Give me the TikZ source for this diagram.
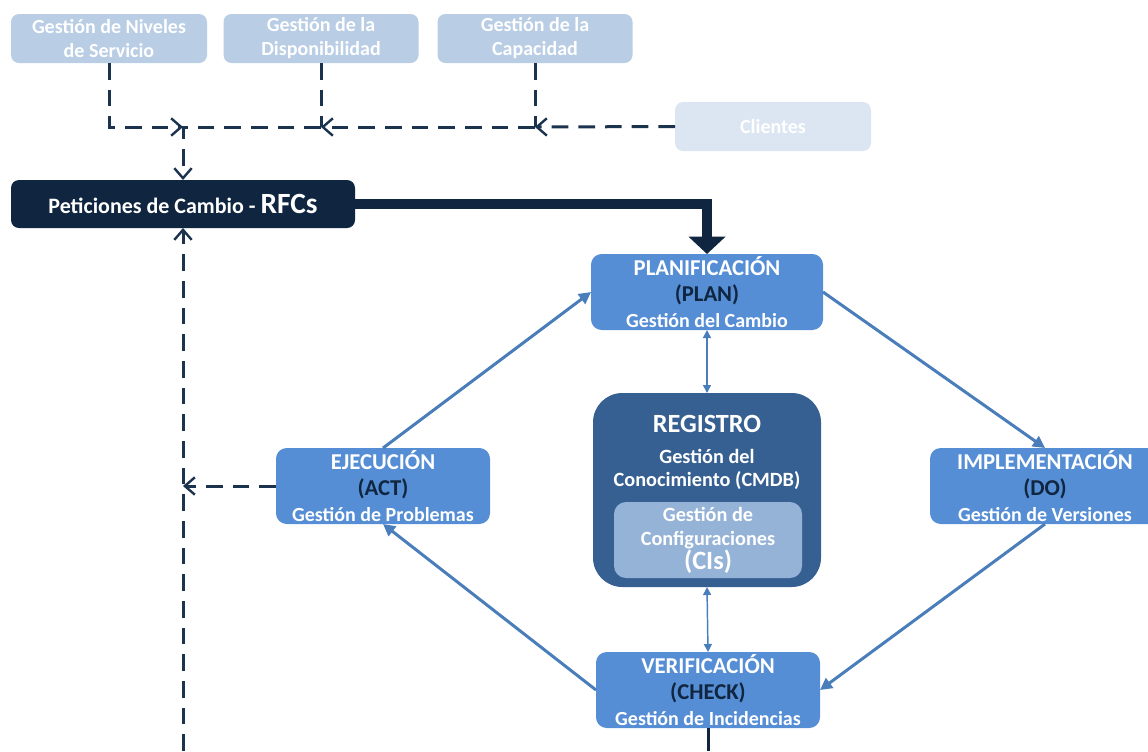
\documentclass[tikz,border=0pt]{standalone}
\usepackage{fontspec}
\setmainfont{Carlito}
\usetikzlibrary{arrows.meta}
\definecolor{lightbox}{HTML}{B9CDE5}
\definecolor{palebox}{HTML}{DCE6F2}
\definecolor{navy}{HTML}{10253F}
\definecolor{midblue}{HTML}{558ED5}
\definecolor{regblue}{HTML}{376092}
\definecolor{ciblue}{HTML}{95B3D7}
\definecolor{arrowblue}{HTML}{4A7EBB}
\definecolor{dashnavy}{HTML}{1C3350}
\newcommand{\ttl}[1]{{\fontsize{17}{19.5}\selectfont #1}}
\begin{document}
\begin{tikzpicture}[x=0.75pt,y=-0.75pt,
  boxsize/.style 2 args={minimum width=#1*0.75pt, minimum height=#2*0.75pt, inner sep=0pt, outer sep=0pt},
  topbox/.style={fill=lightbox, rounded corners=6pt, text=white, align=center, font=\bfseries\fontsize{15}{18}\selectfont},
  phase/.style={fill=midblue, rounded corners=8pt, text=white, align=center, font=\bfseries\fontsize{15}{19.5}\selectfont},
  dsh/.style={draw=dashnavy, line width=2.25pt, dash pattern=on 12.5pt off 7.5pt},
  dtip/.style={-{Straight Barb[length=7.5pt,width=13pt,line width=1.8pt]}},
  cyc/.style={draw=arrowblue, line width=2.25pt, -{Triangle[length=9pt,width=9pt]}},
  link/.style={draw=arrowblue, line width=1.1pt, {Triangle[length=6pt,width=6pt]}-{Triangle[length=6pt,width=6pt]}}
]
\useasboundingbox (0,0) rectangle (1148,751);

% top boxes
\node[topbox, boxsize={196}{49}] (n1) at (109,38.5) {Gestión de Niveles\\de Servicio};
\node[topbox, boxsize={195}{49}] (n2) at (321,38.5) {Gestión de la\\Disponibilidad};
\node[topbox, boxsize={195}{49}] (n3) at (535,38.5) {Gestión de la\\Capacidad};
\node[topbox, fill=palebox, boxsize={196}{49}] (cli) at (773,126.5) {Clientes};

% RFC
\node[fill=navy, rounded corners=6pt, text=white, boxsize={344}{48}, font=\bfseries\fontsize{16.5}{18}\selectfont] (rfc) at (183,204)
  {Peticiones de Cambio - {\fontsize{22}{24}\selectfont RFCs}};

% phases
\node[phase, boxsize={232}{76}] (plan) at (707,292) {\ttl{PLANIFICACIÓN}\\\ttl{\color{navy}(PLAN)}\\Gestión del Cambio};
\node[phase, boxsize={230}{76}] (impl) at (1045,486) {\ttl{IMPLEMENTACIÓN}\\\ttl{\color{navy}(DO)}\\Gestión de Versiones};
\node[phase, boxsize={214}{76}] (ejec) at (383,486) {\ttl{EJECUCIÓN}\\\ttl{\color{navy}(ACT)}\\Gestión de Problemas};
\node[phase, boxsize={224}{76}] (verif) at (708,690) {\ttl{VERIFICACIÓN}\\\ttl{\color{navy}(CHECK)}\\Gestión de Incidencias};

% registro
\node[fill=regblue, rounded corners=22pt, boxsize={228}{194}] (reg) at (707,490) {};
\node[text=white, font=\bfseries\fontsize{19.7}{22}\selectfont, inner sep=0pt] (regt) at (707,424) {REGISTRO};
\node[text=white, align=center, font=\bfseries\fontsize{15.2}{17.25}\selectfont, inner sep=0pt] (regs) at (707,469) {Gestión del\\Conocimiento (CMDB)};
\node[fill=ciblue, rounded corners=9pt, boxsize={188}{76}, text=white, align=center, font=\bfseries\fontsize{15.2}{18}\selectfont] (ci) at (708,540)
  {Gestión de\\Configuraciones\\{\fontsize{19.8}{18}\selectfont (CIs)}};

% coordinates
\coordinate (j1) at (183,127);
\coordinate (j2) at (321,127);
\coordinate (j3) at (535,127);
\coordinate (bl) at (183,751);
\coordinate (br) at (708,751);

% dashed feed lines
\draw[dsh, dtip] (n1.south) |- (j1);
\draw[dsh] (n2.south) -- (j2);
\draw[dsh] (n3.south) -- (j3);
\draw[dsh, dtip] (cli.west) -- (j3);
\draw[dsh, dtip] (j3) -- (j2);
\draw[dsh, dtip] (j2) -- (j1) -- (rfc.north);
\draw[dsh, dtip] (bl) -- (rfc.south);
\draw[dsh, dtip] (ejec.west) -- (ejec.west -| bl);
\draw[draw=navy, line width=2.25pt] (verif.south) -- (br);

% thick RFC arrow
\draw[draw=navy, line width=7.5pt, -{Triangle[length=13pt,width=27pt]}] (rfc.east) -| (plan.north);

% cycle
\draw[cyc] (plan.east) -- (impl.north);
\draw[cyc] (impl.south) -- (verif.east);
\draw[cyc] (verif.west) -- (ejec.south);
\draw[cyc] (ejec.north) -- (plan.west);

% links to registro
\draw[link] (plan.south) -- (reg.north);
\draw[link] (reg.south) -- (verif.north);
\end{tikzpicture}
\end{document}
